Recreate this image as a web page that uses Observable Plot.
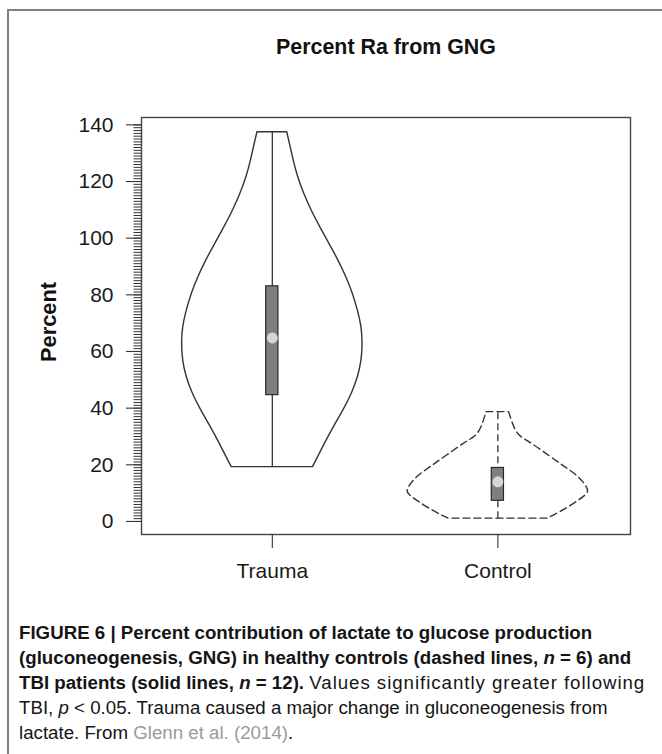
<!DOCTYPE html>
<html><head><meta charset="utf-8">
<script src="https://cdn.jsdelivr.net/npm/d3@7"></script>
<script src="https://cdn.jsdelivr.net/npm/@observablehq/plot@0.6"></script>
<style>
html,body{margin:0;padding:0;background:#fff;}
body{width:662px;height:754px;overflow:hidden;position:relative;font-family:"Liberation Sans",Arial,Helvetica,sans-serif;}
#frame{position:absolute;left:7px;top:9px;width:720px;height:820px;border-left:2px solid #808080;border-top:2px solid #808080;}
#chart{position:absolute;left:0;top:0;}
#caption{position:absolute;left:19px;top:620px;font-size:18.7px;line-height:25px;white-space:nowrap;color:#151515;}
#caption .ref{color:#9a9a9a;}
#caption .wide{letter-spacing:0.95px;}
</style></head><body>
<div id="frame"></div>
<div id="chart"></div>
<div id="caption"><b>FIGURE 6 | Percent contribution of lactate to glucose production</b><br><b>(gluconeogenesis, GNG) in healthy controls (dashed lines, <i>n</i> = 6) and</b><br><b>TBI patients (solid lines, <i>n</i> = 12).</b> <span class="wide">Values significantly greater following</span><br>TBI, <i>p</i> &lt; 0.05. Trauma caused a major change in gluconeogenesis from<br>lactate. From <span class="ref">Glenn et al. (2014)</span>.</div>
<script>
const title = "Percent Ra from GNG";
const yLabel = "Percent";
const categories = ["Trauma", "Control"];
const positions = [1, 2];
const majorTicks = [0, 20, 40, 60, 80, 100, 120, 140];
const minorTicks = d3.range(0, 141, 1);

// violin outlines: level (percent) and half-width (x units)
const traumaLevels = [137.4, 133.3, 127.4, 121.5, 115.6, 109.7, 103.8, 98.0, 92.1, 86.2, 80.3, 74.5, 68.6, 62.7, 56.8, 50.9, 45.1, 39.2, 33.3, 27.4, 21.5, 19.2];
const traumaHalfWidths = [0.066, 0.078, 0.095, 0.115, 0.142, 0.175, 0.213, 0.253, 0.293, 0.328, 0.357, 0.379, 0.395, 0.400, 0.395, 0.379, 0.352, 0.315, 0.273, 0.233, 0.195, 0.180];
const controlLevels = [38.6, 35.6, 32.1, 29.7, 27.4, 23.3, 19.2, 15.6, 12.1, 10.3, 8.6, 5.0, 2.1, 1.0];
const controlHalfWidths = [0.050, 0.062, 0.080, 0.106, 0.151, 0.225, 0.298, 0.358, 0.394, 0.399, 0.380, 0.313, 0.248, 0.218];

// box summaries: min, q1, median, q3, max
const mins = [19.2, 1.0];
const q1s = [44.6, 7.3];
const medians = [64.8, 14.0];
const q3s = [83.0, 18.9];
const maxs = [137.4, 38.6];
const dashes = [null, "7,4"];

const violin = (levels, hws, pos) => levels.map((v, i) => ({v, x1: pos - hws[i], x2: pos + hws[i]}));
const violins = [violin(traumaLevels, traumaHalfWidths, 1), violin(controlLevels, controlHalfWidths, 2)];
const boxes = categories.map((c, i) => ({c, x: positions[i], min: mins[i], q1: q1s[i], med: medians[i], q3: q3s[i], max: maxs[i], dash: dashes[i]}));
const boxHalf = 0.027;
const ink = "#333";

const marks = [];
violins.forEach((data, i) => {
  marks.push(Plot.areaX(data, {y: "v", x1: "x1", x2: "x2", curve: "natural", fill: "white", stroke: ink, strokeWidth: 1.4, strokeDasharray: dashes[i] ?? undefined}));
});
boxes.forEach(b => {
  marks.push(Plot.ruleX([b], {x: "x", y1: "min", y2: "max", stroke: ink, strokeWidth: 1.3, strokeDasharray: b.dash ?? undefined}));
  marks.push(Plot.rect([b], {x1: d => d.x - boxHalf, x2: d => d.x + boxHalf, y1: "q1", y2: "q3", fill: "#7f7f7f", stroke: "#2a2a2a", strokeWidth: 1.2}));
  marks.push(Plot.dot([b], {x: "x", y: "med", r: 5.5, fill: "#d6d6d6", stroke: "none"}));
});

const chart = Plot.plot({
  width: 662,
  height: 615,
  marginLeft: 141,
  marginRight: 32,
  marginTop: 117,
  marginBottom: 81,
  style: {fontFamily: '"Liberation Sans", Arial, sans-serif', color: "#1a1a1a", background: "transparent", overflow: "visible"},
  x: {domain: [0.42, 2.588], axis: null},
  y: {domain: [-4.6, 142.6], axis: null},
  marks: [
    ...marks,
    Plot.frame({stroke: "#444", strokeWidth: 1.4}),
    Plot.axisY(minorTicks, {tickSize: 7.5, text: null, stroke: ink, strokeWidth: 1, label: null}),
    Plot.axisY(majorTicks, {tickSize: 15, tickPadding: 13, fontSize: 21, stroke: ink, strokeWidth: 1.1, label: null}),
    Plot.axisX(positions, {tickSize: 14, tickPadding: 15, fontSize: 21, stroke: ink, strokeWidth: 1.1, tickFormat: d => categories[positions.indexOf(d)], label: null}),
    Plot.text([title], {frameAnchor: "top", dy: -64, lineAnchor: "bottom", fontSize: 21.4, fontWeight: "bold", fill: "#111"}),
    Plot.text([yLabel], {frameAnchor: "left", textAnchor: "middle", lineAnchor: "middle", rotate: -90, dx: -92, dy: -4, fontSize: 21.8, fontWeight: "bold", fill: "#111"})
  ]
});
document.getElementById("chart").appendChild(chart);
</script>
</body></html>
